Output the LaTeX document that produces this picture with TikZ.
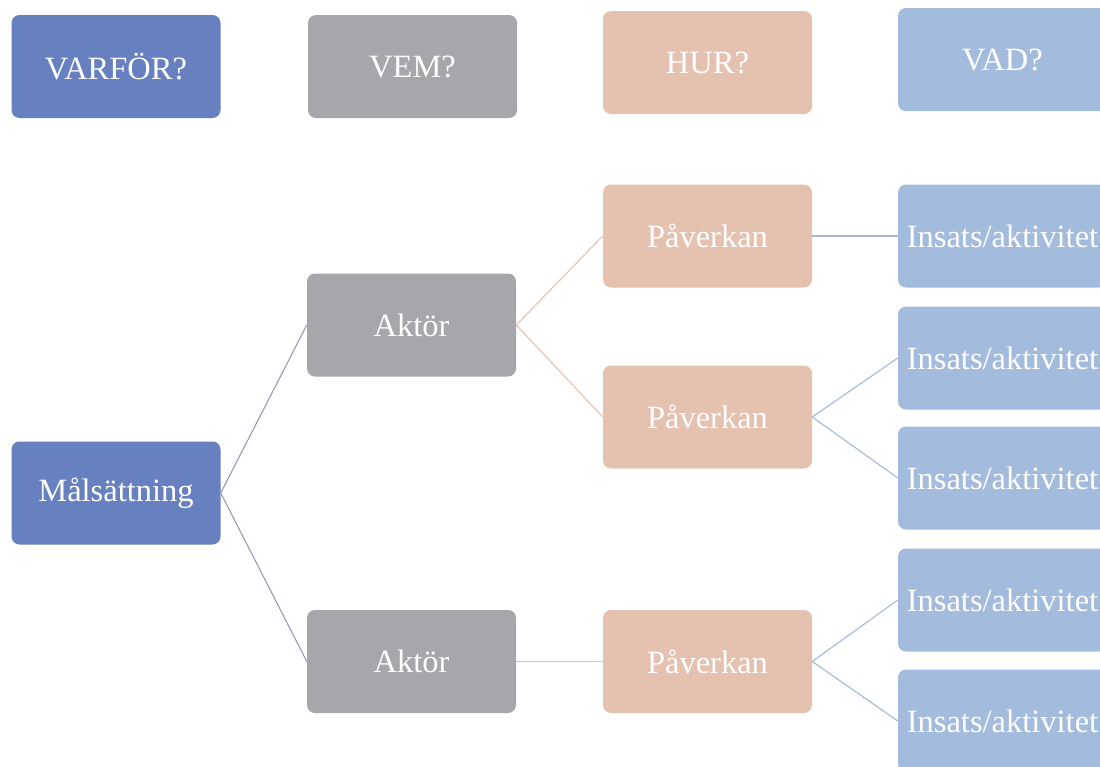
\documentclass[tikz,border=0pt]{standalone}
\usepackage{fontspec}
\setmainfont{Liberation Serif}
\definecolor{cwhy}{HTML}{6680C0}
\definecolor{cwho}{HTML}{A6A7AB}
\definecolor{chow}{HTML}{E5C1AF}
\definecolor{cwhat}{HTML}{A3BBDC}
\definecolor{lwhy}{HTML}{9A9AB4}
\definecolor{lwho}{HTML}{E5C1B5}
\definecolor{lhow}{HTML}{A9B6D8}
\begin{document}
\begin{tikzpicture}[x=1pt,y=-1pt,
  box/.style={rectangle, rounded corners=8pt, minimum width=209pt, minimum height=103pt,
    inner sep=2pt, text=white, font=\fontsize{32.5}{36}\selectfont},
  why/.style={box, fill=cwhy},
  who/.style={box, fill=cwho},
  how/.style={box, fill=chow},
  what/.style={box, fill=cwhat},
  conn/.style={line width=1.1pt}]
\useasboundingbox (0,0) rectangle (1100,766);
\clip (0,0) rectangle (1100,766);
\fill[white] (0,0) rectangle (1100,766);
% headers
\node[why]  (varfor) at (116,66.5)   {VARFÖR?};
\node[who]  (vem)    at (412.5,66.5) {VEM?};
\node[how]  (hur)    at (707.5,62.5) {HUR?};
\node[what] (vad)    at (1002.5,59.5) {VAD?};
% tree
\node[why]  (mal)  at (116,493)     {Målsättning};
\node[who]  (akt1) at (411.5,325)   {Aktör};
\node[who]  (akt2) at (411.5,661.5) {Aktör};
\node[how]  (pav1) at (707.5,236)   {Påverkan};
\node[how]  (pav2) at (707.5,417)   {Påverkan};
\node[how]  (pav3) at (707.5,661.5) {Påverkan};
\node[what] (ins1) at (1002.5,236) {Insats/aktivitet};
\node[what] (ins2) at (1002.5,358) {Insats/aktivitet};
\node[what] (ins3) at (1002.5,478) {Insats/aktivitet};
\node[what] (ins4) at (1002.5,600) {Insats/aktivitet};
\node[what] (ins5) at (1002.5,721) {Insats/aktivitet};
% connectors
\draw[conn, lwhy] (mal.east) -- (akt1.west);
\draw[conn, lwhy] (mal.east) -- (akt2.west);
\draw[conn, lwho] (akt1.east) -- (pav1.west);
\draw[conn, lwho] (akt1.east) -- (pav2.west);
\draw[conn, lwho] (akt2.east) -- (pav3.west);
\draw[conn, lhow] (pav1.east) -- (ins1.west);
\draw[conn, lhow] (pav2.east) -- (ins2.west);
\draw[conn, lhow] (pav2.east) -- (ins3.west);
\draw[conn, lhow] (pav3.east) -- (ins4.west);
\draw[conn, lhow] (pav3.east) -- (ins5.west);
\end{tikzpicture}
\end{document}
